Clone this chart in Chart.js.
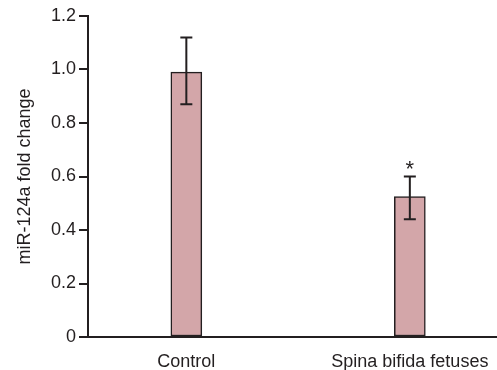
<!DOCTYPE html>
<html>
<head>
<meta charset="utf-8">
<script src="https://cdn.jsdelivr.net/npm/chart.js@4/dist/chart.umd.min.js"></script>
<style>
  html, body { margin: 0; padding: 0; background: #fff; }
  #wrap { width: 497px; height: 370px; }
</style>
</head>
<body>
<div id="wrap"><canvas id="foldChart"></canvas></div>
<script>
// data
const categories = ['Control', 'Spina bifida fetuses'];
const positions = [1, 2];
const foldChange = [0.99, 0.525];
const errLow = [0.87, 0.44];
const errHigh = [1.12, 0.60];
const markers = ['', '*'];
const yTicks = [0, 0.2, 0.4, 0.6, 0.8, 1.0, 1.2];

const ink = '#231f20';
const fontFam = '"Liberation Sans", Arial, sans-serif';

// error bars + significance marks
const errorBarPlugin = {
  id: 'errorBars',
  afterDatasetsDraw(chart) {
    const ctx = chart.ctx;
    const xs = chart.scales.x, ys = chart.scales.y;
    ctx.save();
    ctx.strokeStyle = ink;
    ctx.lineWidth = 2;
    for (let i = 0; i < positions.length; i++) {
      const x = xs.getPixelForValue(positions[i]);
      const yTop = ys.getPixelForValue(errHigh[i]);
      const yBot = ys.getPixelForValue(errLow[i]);
      ctx.beginPath();
      ctx.moveTo(x, yTop); ctx.lineTo(x, yBot);
      ctx.moveTo(x - 6, yTop); ctx.lineTo(x + 6, yTop);
      ctx.moveTo(x - 6, yBot); ctx.lineTo(x + 6, yBot);
      ctx.stroke();
      if (markers[i]) {
        ctx.fillStyle = ink;
        ctx.font = '22px ' + fontFam;
        ctx.textAlign = 'center';
        ctx.textBaseline = 'alphabetic';
        ctx.fillText(markers[i], x, yTop - 1);
      }
    }
    ctx.restore();
  }
};

new Chart(document.getElementById('foldChart'), {
  type: 'bar',
  data: {
    datasets: [{
      data: positions.map((p, i) => ({ x: p, y: foldChange[i] })),
      backgroundColor: '#d3a6a9',
      borderColor: ink,
      borderWidth: 1.5,
      borderSkipped: false,
      barThickness: 31
    }]
  },
  options: {
    responsive: true,
    maintainAspectRatio: false,
    animation: false,
    layout: { padding: { top: 16, right: 0, left: 0, bottom: 0 } },
    plugins: { legend: { display: false }, tooltip: { enabled: false } },
    scales: {
      x: {
        type: 'linear',
        offset: false,
        min: 0.56,
        max: 2.39,
        grid: { display: false, offset: false },
        border: { display: true, color: ink, width: 2 },
        afterBuildTicks: (scale) => { scale.ticks = positions.map(v => ({ value: v })); },
        afterFit: (scale) => { scale.height = 33; },
        ticks: {
          color: ink,
          padding: 6,
          font: { family: fontFam, size: 18 },
          maxRotation: 0,
          autoSkip: false,
          callback: (v) => categories[positions.indexOf(v)] || ''
        }
      },
      y: {
        min: 0,
        max: 1.2,
        afterBuildTicks: (scale) => { scale.ticks = yTicks.map(v => ({ value: v })); },
        afterFit: (scale) => { scale.width = 88; },
        grid: { drawOnChartArea: false, drawTicks: true, tickLength: 9, color: ink, lineWidth: 2 },
        border: { display: true, color: ink, width: 2 },
        ticks: {
          color: ink,
          padding: 3,
          font: { family: fontFam, size: 18 },
          callback: (v) => v === 0 ? '0' : v.toFixed(1)
        },
        title: {
          display: true,
          text: 'miR-124a fold change',
          color: ink,
          font: { family: fontFam, size: 18 },
          padding: { top: 14, bottom: 0 }
        }
      }
    }
  },
  plugins: [errorBarPlugin]
});
</script>
</body>
</html>
